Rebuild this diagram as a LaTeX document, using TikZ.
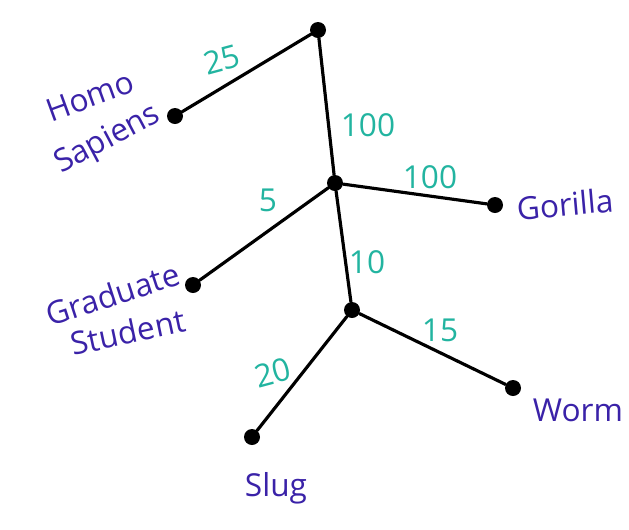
\documentclass[tikz,border=0pt]{standalone}
\usepackage{fontspec}
\setmainfont{Open Sans}
\definecolor{inkname}{HTML}{3A22A8}
\definecolor{inkweight}{HTML}{22B4A0}
\begin{document}
\begin{tikzpicture}[x=0.02cm, y=-0.02cm,
    branch/.style={line width=1.8pt, line cap=round},
    leaf/.style={circle, fill=black, inner sep=0pt, minimum size=0.32cm},
    weight/.style={text=inkweight, font=\fontsize{18}{20}\selectfont, inner sep=1pt},
    species/.style={text=inkname, font=\fontsize{18}{22}\selectfont, inner sep=0pt}]
  \useasboundingbox (0,0) rectangle (629,529);
  % Tree nodes
  \node[leaf] (root)    at (318,30)  {};
  \node[leaf] (homo)    at (175,116) {};
  \node[leaf] (mid)     at (335,183) {};
  \node[leaf] (gorilla) at (495,205) {};
  \node[leaf] (grad)    at (193,285) {};
  \node[leaf] (low)     at (352,310) {};
  \node[leaf] (worm)    at (513,388) {};
  \node[leaf] (slug)    at (252,437) {};
  % Branches
  \draw[branch] (root) -- (homo);
  \draw[branch] (root) -- (mid);
  \draw[branch] (mid) -- (gorilla);
  \draw[branch] (mid) -- (grad);
  \draw[branch] (mid) -- (low);
  \draw[branch] (low) -- (worm);
  \draw[branch] (low) -- (slug);
  % Branch lengths
  \node[weight, rotate=15] (w25)  at (222,60)  {25};
  \node[weight] (w100a) at (368,125) {100};
  \node[weight] (w100b) at (430,177) {100};
  \node[weight] (w5)    at (268,200) {5};
  \node[weight] (w10)   at (367,262) {10};
  \node[weight] (w15)   at (440,330) {15};
  \node[weight, rotate=15] (w20)  at (273,373) {20};
  % Species names
  \node[species, rotate=20] (nhomo)    at (90,96)   {Homo};
  \node[species, rotate=28] (nsapiens) at (108,140) {Sapiens};
  \node[species, rotate=5]  (ngorilla) at (565,204) {Gorilla};
  \node[species, rotate=18] (ngrad)    at (113,294) {Graduate};
  \node[species, rotate=12] (nstudent) at (128,332) {Student};
  \node[species] (nworm) at (578,410) {Worm};
  \node[species] (nslug) at (276,488) {Slug};
\end{tikzpicture}
\end{document}
